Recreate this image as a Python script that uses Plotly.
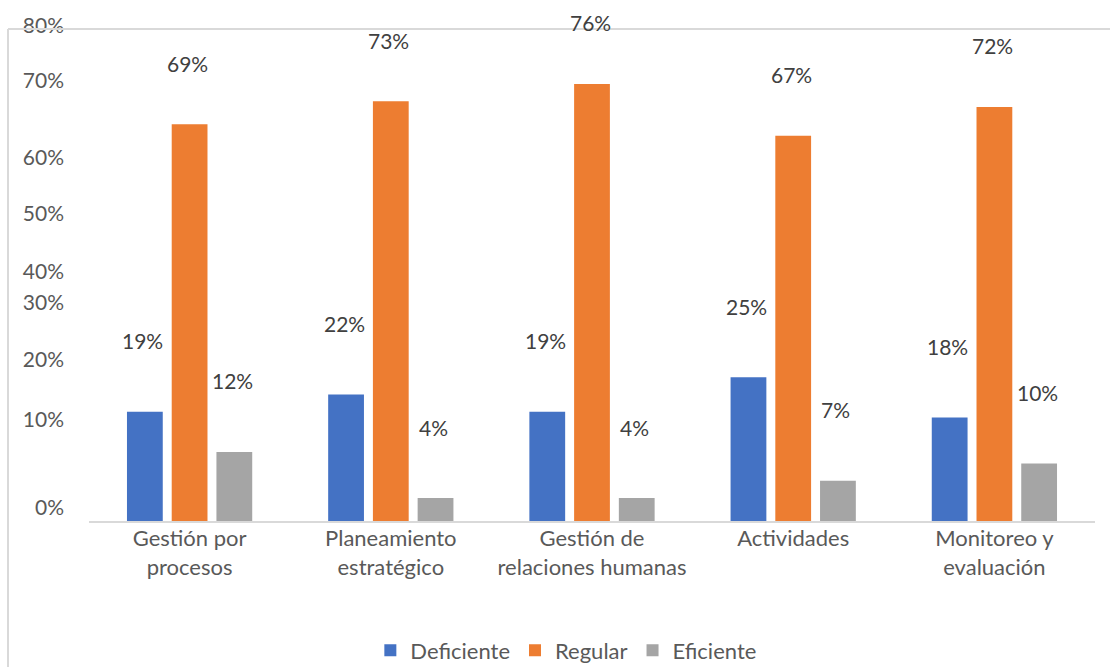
import plotly.graph_objects as go

categories = ["Gestión por<br>procesos", "Planeamiento<br>estratégico",
              "Gestión de<br>relaciones humanas", "Actividades",
              "Monitoreo y<br>evaluación"]
deficiente = [19, 22, 19, 25, 18]
regular = [69, 73, 76, 67, 72]
eficiente = [12, 4, 4, 7, 10]
series_names = ["Deficiente", "Regular", "Eficiente"]
series_colors = ["#4472C4", "#ED7D31", "#A5A5A5"]

# y-axis tick labels (irregularly placed in the reference)
tick_text = ["0%", "10%", "20%", "30%", "40%", "50%", "60%", "70%", "80%"]
tick_pos = [2.4, 17.6, 28.0, 37.9, 43.4, 53.4, 63.1, 76.5, 86.1]

FONT = "Lato"
TXT = "#595959"
fig = go.Figure()
series = [deficiente, regular, eficiente]
for name, vals, col in zip(series_names, series, series_colors):
    fig.add_trace(go.Bar(x=categories, y=vals, name=name, marker_color=col,
                         marker_line_width=0))

# data labels floating above bars
offsets = [-44.7, 0, 44.7]
lifts = [71, 61, 71]
for vals, dx, dy in zip(series, offsets, lifts):
    for c, v in zip(categories, vals):
        fig.add_annotation(x=c, y=v, text=f"{v}%", showarrow=False,
                           xshift=dx - 2, yshift=dy, yanchor="middle",
                           font=dict(family=FONT, size=21, color="#404040"))

# outer frame lines
fig.add_shape(type="line", xref="paper", yref="paper", x0=-0.0805, x1=-0.0805,
              y0=0.988, y1=-0.30, line=dict(color="#D9D9D9", width=2))
fig.add_shape(type="line", xref="paper", yref="paper", x0=-0.0805, x1=1.02,
              y0=0.988, y1=0.988, line=dict(color="#D9D9D9", width=2))

fig.update_layout(
    width=1110, height=667,
    margin=dict(l=89, r=15, t=23, b=146, autoexpand=False),
    paper_bgcolor="white", plot_bgcolor="white",
    barmode="group", bargap=0.333, bargroupgap=0.2,
    font=dict(family=FONT, size=22, color=TXT),
    showlegend=True,
    legend=dict(orientation="h", x=0.474, xanchor="center", y=-0.26,
                yanchor="middle", font=dict(family=FONT, size=22, color=TXT),
                itemwidth=30, tracegroupgap=0),
    xaxis=dict(showline=True, linecolor="#D9D9D9", linewidth=1.5,
               automargin=False, ticklabelstandoff=-3,
               showgrid=False, ticks="", tickfont=dict(size=22, color=TXT)),
    yaxis=dict(range=[0, 86.6], showgrid=False, zeroline=False, showline=False,
               automargin=False,
               tickmode="array", tickvals=tick_pos, ticktext=tick_text,
               ticklabelstandoff=24, tickfont=dict(size=21, color=TXT)),
)

fig.write_html("out.html", config={"displayModeBar": False},
               post_script="document.body.style.margin='0px';document.body.style.overflow='hidden';")
